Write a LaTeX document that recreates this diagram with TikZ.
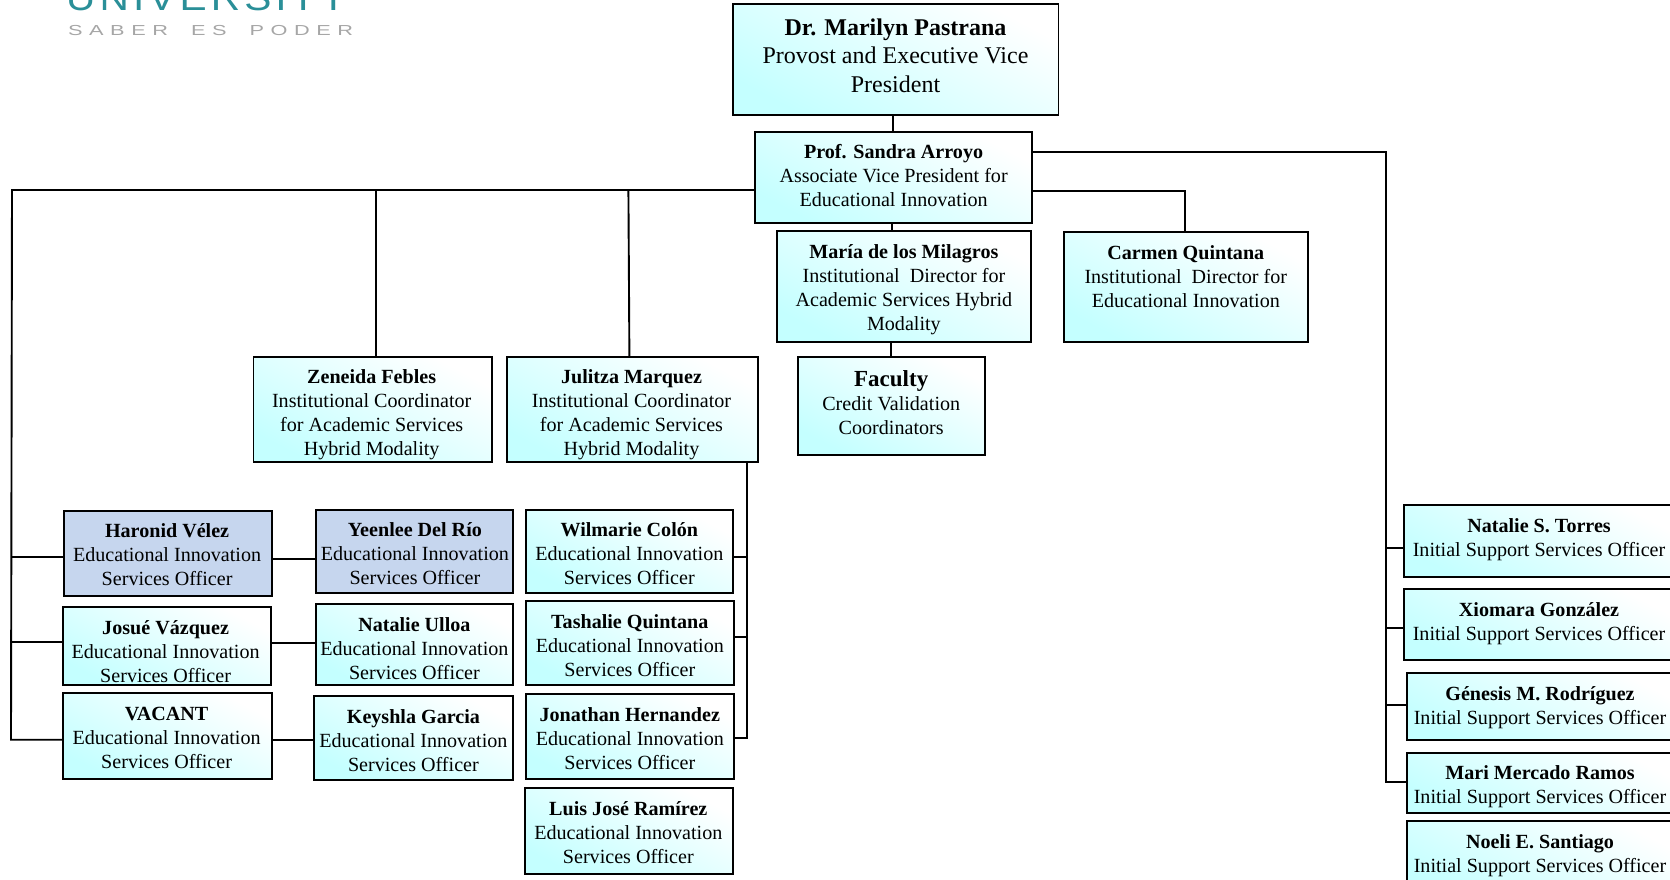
\documentclass[tikz,border=0pt]{standalone}
\usepackage{fontspec}
\setmainfont{Liberation Serif}
\newfontfamily\logoA[LetterSpace=10]{Liberation Sans}
\newfontfamily\logoB[LetterSpace=30]{Liberation Sans}
\definecolor{cyanb}{HTML}{C4FFFF}
\definecolor{blueb}{HTML}{C6D6EE}
\definecolor{tealb}{HTML}{2A8F98}
\definecolor{grayb}{HTML}{A6A6A6}
\tikzset{
  boxbase/.style={draw=black,line width=1.9pt,inner sep=0pt,outer sep=0pt},
  cyanbox/.style={boxbase,top color=white,bottom color=cyanb,shading angle=-28},
  bluebox/.style={boxbase,fill=blueb},
  txt/.style={align=center,inner sep=0pt,outer sep=0pt,text=black,font=\fontsize{20.1}{24}\selectfont},
  link/.style={draw=black,line width=1.9pt,line cap=rect}
}
% name, x1, y1, x2, y2, box style, text x, text y, text
\newcommand\bx[9]{%
  \node[#6,minimum width={(#4-#2)*1pt},minimum height={(#5-#3)*1pt}] (#1) at ({(#2+#4)/2},{(#3+#5)/2}) {};
  \node[txt] (#1t) at (#7,#8) {#9};
}
\begin{document}
\begin{tikzpicture}[x=1pt,y=-1pt]
\clip (0,0) rectangle (1670,880);
% logo
\node[anchor=south west,inner sep=0pt,text=tealb] (logoa) at (66,11) {\scalebox{1.13}[1]{\fontsize{36}{36}\logoA UNIVERSITY}};
\node[anchor=west,inner sep=0pt,text=grayb] (logob) at (68,31) {\scalebox{1.5}[1]{\fontsize{14.5}{16}\logoB SABER\hspace{7pt} ES\hspace{7pt} PODER}};
% boxes
\begin{scope}[txt/.append style={font=\fontsize{24}{28.4}\selectfont}]
\bx{mp}{732.7}{4}{1058.5}{115}{cyanbox}{895.5}{55.7}{\textbf{Dr. Marilyn Pastrana}\\Provost and Executive Vice\\President}
\end{scope}
\bx{sa}{754.8}{131.7}{1032.4}{223.3}{cyanbox}{893.6}{175.7}{\textbf{Prof. Sandra Arroyo}\\Associate Vice President for\\Educational Innovation}
\bx{mm}{777.3}{231}{1030.8}{341.7}{cyanbox}{903.9}{290}{\textbf{María de los Milagros}\\Institutional\ \ Director for\\Academic Services Hybrid\\Modality}
\bx{cq}{1064.4}{232.3}{1308.4}{341.7}{cyanbox}{1185.8}{276.7}{\textbf{Carmen Quintana}\\Institutional\ \ Director for\\Educational Innovation}
\bx{fa}{798.3}{356.7}{984.9}{455}{cyanbox}{891.2}{403}{\textbf{\fontsize{23}{24}\selectfont Faculty}\\Credit Validation\\Coordinators}
\bx{zf}{253.5}{356.8}{492}{462.2}{cyanbox}{371.7}{415}{\textbf{Zeneida Febles}\\Institutional Coordinator\\for Academic Services\\Hybrid Modality}
\bx{jm}{507}{356.8}{758.3}{462.2}{cyanbox}{631.5}{415}{\textbf{Julitza Marquez}\\Institutional Coordinator\\for Academic Services\\Hybrid Modality}
\bx{hv}{64.2}{510.7}{272.1}{595.7}{bluebox}{167.1}{554.3}{\textbf{Haronid Vélez}\\Educational Innovation\\Services Officer}
\bx{yd}{316.4}{509.7}{512.9}{593}{bluebox}{414.9}{553.3}{\textbf{Yeenlee Del Río}\\Educational Innovation\\Services Officer}
\bx{wc}{526.3}{509.7}{732.7}{593}{cyanbox}{629.3}{553.3}{\textbf{Wilmarie Colón}\\Educational Innovation\\Services Officer}
\bx{jv}{62.7}{607}{271.1}{685}{cyanbox}{165.6}{651.7}{\textbf{Josué Vázquez}\\Educational Innovation\\Services Officer}
\bx{nu}{315.9}{604}{512.9}{685}{cyanbox}{414.4}{648.7}{\textbf{Natalie Ulloa}\\Educational Innovation\\Services Officer}
\bx{tq}{526.3}{601.3}{734.2}{684.7}{cyanbox}{629.8}{645.7}{\textbf{Tashalie Quintana}\\Educational Innovation\\Services Officer}
\bx{va}{62.7}{693.3}{272.1}{778.7}{cyanbox}{166.6}{737.7}{\textbf{VACANT}\\Educational Innovation\\Services Officer}
\bx{kg}{314.4}{696}{512.9}{780.3}{cyanbox}{413.4}{740.7}{\textbf{Keyshla Garcia}\\Educational Innovation\\Services Officer}
\bx{jh}{526.3}{694}{734.2}{779}{cyanbox}{629.8}{738.7}{\textbf{Jonathan Hernandez}\\Educational Innovation\\Services Officer}
\bx{lr}{524.8}{788.3}{732.7}{874}{cyanbox}{628.3}{832.7}{\textbf{Luis José Ramírez}\\Educational Innovation\\Services Officer}
\bx{nt}{1404.3}{505}{1676}{577.3}{cyanbox}{1539}{539.8}{\textbf{Natalie S. Torres}\\Initial Support Services Officer}
\bx{xg}{1404.3}{589.3}{1676}{659.7}{cyanbox}{1539}{624}{\textbf{Xiomara González}\\Initial Support Services Officer}
\bx{gr}{1407.3}{673}{1676}{740.3}{cyanbox}{1540}{708}{\textbf{Génesis M. Rodríguez}\\Initial Support Services Officer}
\bx{mr}{1407}{753}{1676}{813.3}{cyanbox}{1540}{787}{\textbf{Mari Mercado Ramos}\\Initial Support Services Officer}
\bx{ns}{1407}{821.3}{1676}{900}{cyanbox}{1540}{855.7}{\textbf{Noeli E. Santiago}\\Initial Support Services Officer}
% bus coordinates
\coordinate (ltop) at (12,190);
\coordinate (lbot) at (11,739.7);
\coordinate (l1) at (11.5,557.3);
\coordinate (l2) at (11.5,642);
\coordinate (rtop) at (1386,152.3);
\coordinate (rbot) at (1386,782.3);
\coordinate (r1) at (1386,547.7);
\coordinate (r2) at (1386,627.7);
\coordinate (r3) at (1386,705.3);
\coordinate (cbus) at (1185.4,190.7);
\coordinate (zdrop) at (376,190);
\coordinate (jdrop) at (628.4,190);
\coordinate (jbot) at (746.7,462.2);
\coordinate (jend) at (746.7,738);
\coordinate (j1) at (746.7,557.3);
\coordinate (j2) at (746.7,636.7);
\coordinate (mpx) at (892.8,115);
\coordinate (sax) at (892,223.3);
\coordinate (mmx) at (891.2,341.7);
% connectors
\draw[link] (mpx) -- (mpx |- sa.north);
\draw[link] (sax) -- (sax |- mm.north);
\draw[link] (mmx) -- (mmx |- fa.north);
\draw[link] (sa.east |- cbus) -- (cbus) -- (cbus |- cq.north);
\draw[link] (sa.east |- rtop) -- (rtop) -- (rbot) -- (mr.west |- rbot);
\draw[link] (nt.west |- r1) -- (r1);
\draw[link] (xg.west |- r2) -- (r2);
\draw[link] (gr.west |- r3) -- (r3);
\draw[link] (sa.west |- ltop) -- (ltop) -- (lbot) -- (va.west |- lbot);
\draw[link] (hv.west |- l1) -- (l1);
\draw[link] (jv.west |- l2) -- (l2);
\draw[link] (zdrop) -- (zdrop |- zf.north);
\draw[link] (jdrop) -- (jm.north -| 629.4,0);
\draw[link] (hv.east |- 0,558.7) -- (yd.west |- 0,558.7);
\draw[link] (jv.east |- 0,642.7) -- (nu.west |- 0,642.7);
\draw[link] (va.east |- 0,740) -- (kg.west |- 0,740);
\draw[link] (jbot) -- (jend) -- (jh.east |- jend);
\draw[link] (wc.east |- j1) -- (j1);
\draw[link] (tq.east |- j2) -- (j2);
\end{tikzpicture}
\end{document}
